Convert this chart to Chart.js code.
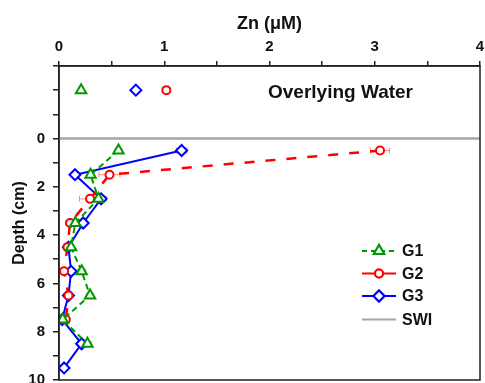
<!DOCTYPE html>
<html>
<head>
<meta charset="utf-8">
<script src="https://cdn.jsdelivr.net/npm/chart.js@4/dist/chart.umd.min.js"></script>
<style>
  html, body { margin: 0; padding: 0; background: #fff; overflow: hidden; }
  #wrap { width: 485px; height: 383px; position: relative; }
</style>
</head>
<body>
<div id="wrap"><canvas id="c" width="485" height="383"></canvas></div>
<script>
// ---- data ----
const depths = [0.5, 1.5, 2.5, 3.5, 4.5, 5.5, 6.5, 7.5, 8.5, 9.5];
const g1 = [0.565, 0.30, 0.375, 0.155, 0.115, 0.215, 0.295, 0.035, 0.27, null];
const g2 = [3.05, 0.48, 0.295, 0.105, 0.08, 0.048, 0.09, 0.065, null, null];
const g3 = [1.165, 0.152, 0.40, 0.23, 0.09, 0.115, 0.09, 0.03, 0.215, 0.048];
const g1Err = [0.03, 0.03, 0.03, 0.03, 0.02, 0.04, 0.03, 0.02, 0.04, null];
const g2Err = [0.09, 0.10, 0.10, 0.04, 0.02, 0.02, 0.02, 0.02, null, null];
const g3Err = [0.05, 0.03, 0.05, 0.02, 0.04, 0.03, 0.04, 0.02, 0.03, 0.02];
const overlyingDepth = -2;
const overlying = { G1: 0.21, G2: 1.02, G3: 0.73 };
const xTicks = [0, 0.5, 1, 1.5, 2, 2.5, 3, 3.5, 4];
const yTicks = [-3, -2, -1, 0, 1, 2, 3, 4, 5, 6, 7, 8, 9, 10];
const swiDepth = 0;

function pts(vals) {
  const out = [];
  vals.forEach((v, i) => { if (v !== null) out.push({ x: v, y: depths[i] }); });
  return out;
}

const FONT = "'Liberation Sans', Arial, sans-serif";
const GREEN = '#009900', RED = '#ff0000', BLUE = '#0000ff', GRAY = '#a6a6a6';

const errorBars = {
  id: 'errorBars',
  beforeDatasetsDraw(chart) {
    const ctx = chart.ctx, xs = chart.scales.x, ys = chart.scales.y;
    const sets = [[g1, g1Err, 'rgba(0,153,0,0.45)'], [g2, g2Err, 'rgba(255,0,0,0.45)'], [g3, g3Err, 'rgba(0,0,255,0.45)']];
    ctx.save();
    ctx.lineWidth = 1;
    sets.forEach(([vals, errs, col]) => {
      ctx.strokeStyle = col;
      vals.forEach((v, i) => {
        if (v === null || errs[i] === null) return;
        const y = ys.getPixelForValue(depths[i]);
        const x1 = xs.getPixelForValue(Math.max(0, v - errs[i]));
        const x2 = xs.getPixelForValue(v + errs[i]);
        ctx.beginPath();
        ctx.moveTo(x1, y); ctx.lineTo(x2, y);
        ctx.moveTo(x1, y - 3); ctx.lineTo(x1, y + 3);
        ctx.moveTo(x2, y - 3); ctx.lineTo(x2, y + 3);
        ctx.stroke();
      });
    });
    ctx.restore();
  }
};

const decor = {
  id: 'decor',
  afterDraw(chart) {
    const ctx = chart.ctx, a = chart.chartArea, ys = chart.scales.y;
    ctx.save();
    // frame
    ctx.strokeStyle = '#222';
    ctx.lineWidth = 1.5;
    ctx.strokeRect(a.left, a.top, a.right - a.left, a.bottom - a.top);
    // overlying water text
    ctx.fillStyle = '#111';
    ctx.font = 'bold 19px ' + FONT;
    ctx.textBaseline = 'middle';
    ctx.textAlign = 'left';
    ctx.fillText('Overlying Water', 268, ys.getPixelForValue(overlyingDepth) + 3);
    // legend
    const items = [
      { label: 'G1', color: GREEN, dash: [5, 4], style: 'triangle', r: 6 },
      { label: 'G2', color: RED, dash: [], style: 'circle', r: 4 },
      { label: 'G3', color: BLUE, dash: [], style: 'rectRot', r: 5.5 },
      { label: 'SWI', color: GRAY, dash: [], style: null, r: 0 }
    ];
    const rowsY = [251, 273.5, 296, 319.5];
    ctx.font = 'bold 16px ' + FONT;
    items.forEach((it, i) => {
      const y = rowsY[i];
      ctx.strokeStyle = it.color;
      ctx.lineWidth = 2;
      ctx.setLineDash(it.dash);
      ctx.beginPath(); ctx.moveTo(362, y); ctx.lineTo(396, y); ctx.stroke();
      ctx.setLineDash([]);
      if (it.style) {
        ctx.fillStyle = '#fff';
        Chart.helpers.drawPoint(ctx, { pointStyle: it.style, radius: it.r, borderWidth: 2, rotation: 0 }, 379, y);
        ctx.fill();
        ctx.stroke();
      }
      ctx.fillStyle = '#111';
      ctx.textAlign = 'left';
      ctx.textBaseline = 'middle';
      ctx.fillText(it.label, 402, y + 1);
    });
    ctx.restore();
  }
};

const common = { fill: false, tension: 0, pointBackgroundColor: '#fff', pointBorderWidth: 2 };

new Chart(document.getElementById('c'), {
  type: 'line',
  data: {
    datasets: [
      Object.assign({}, common, { label: 'G1', data: pts(g1), borderColor: GREEN, borderWidth: 2, borderDash: [6, 4],
        pointStyle: 'triangle', pointRadius: 6, pointBorderColor: GREEN, order: 0 }),
      Object.assign({}, common, { label: 'G2', data: pts(g2), borderColor: RED, borderWidth: 2.5, borderDash: [10, 11],
        pointStyle: 'circle', pointRadius: 4, pointBorderColor: RED, order: 1 }),
      Object.assign({}, common, { label: 'G3', data: pts(g3), borderColor: BLUE, borderWidth: 2,
        pointStyle: 'rectRot', pointRadius: 5.5, pointBorderColor: BLUE, order: 2 }),
      { label: 'SWI', data: [{ x: 0, y: swiDepth }, { x: 4, y: swiDepth }], borderColor: GRAY, borderWidth: 2.5,
        pointRadius: 0, order: 3 },
      Object.assign({}, common, { label: 'G1 OW', data: [{ x: overlying.G1, y: overlyingDepth }], showLine: false,
        pointStyle: 'triangle', pointRadius: 6, pointBorderColor: GREEN, borderColor: GREEN, order: 0 }),
      Object.assign({}, common, { label: 'G2 OW', data: [{ x: overlying.G2, y: overlyingDepth }], showLine: false,
        pointStyle: 'circle', pointRadius: 4, pointBorderColor: RED, borderColor: RED, order: 1 }),
      Object.assign({}, common, { label: 'G3 OW', data: [{ x: overlying.G3, y: overlyingDepth }], showLine: false,
        pointStyle: 'rectRot', pointRadius: 5.5, pointBorderColor: BLUE, borderColor: BLUE, order: 2 })
    ]
  },
  options: {
    responsive: false,
    animation: false,
    events: [],
    layout: { autoPadding: false, padding: { left: 0, right: 5, top: 0, bottom: 3 } },
    plugins: { legend: { display: false }, tooltip: { enabled: false } },
    scales: {
      x: {
        type: 'linear', position: 'top', min: 0, max: 4,
        afterBuildTicks(s) { s.ticks = xTicks.map(v => ({ value: v })); },
        afterFit(s) { s.height = 66; s.paddingLeft = 0; s.paddingRight = 0; },
        ticks: {
          autoSkip: false, maxRotation: 0, padding: 5, color: '#111',
          font: { family: FONT, size: 15, weight: 'bold' },
          callback: v => (Number.isInteger(v) ? String(v) : '')
        },
        grid: { drawOnChartArea: false, drawTicks: true, tickLength: 5, color: '#222', lineWidth: 1.5 },
        border: { display: true, color: '#222', width: 1.5 },
        title: { display: true, text: 'Zn (\u03bcM)', color: '#111', font: { family: FONT, size: 18, weight: 'bold' },
          padding: { top: 13, bottom: 0 } }
      },
      y: {
        type: 'linear', position: 'left', reverse: true, min: -3, max: 10,
        afterBuildTicks(s) { s.ticks = yTicks.map(v => ({ value: v })); },
        afterFit(s) { s.width = 59; s.paddingTop = 0; s.paddingBottom = 0; },
        ticks: {
          autoSkip: false, padding: 8, color: '#111',
          font: { family: FONT, size: 15, weight: 'bold' },
          callback: v => (v >= 0 && v % 2 === 0 ? String(v) : '')
        },
        grid: { drawOnChartArea: false, drawTicks: true, tickLength: 6, color: '#222', lineWidth: 1.5 },
        border: { display: true, color: '#222', width: 1.5 },
        title: { display: true, text: 'Depth (cm)', color: '#111', font: { family: FONT, size: 16, weight: 'bold' },
          padding: { top: 10, bottom: 0 } }
      }
    }
  },
  plugins: [errorBars, decor]
});
</script>
</body>
</html>
